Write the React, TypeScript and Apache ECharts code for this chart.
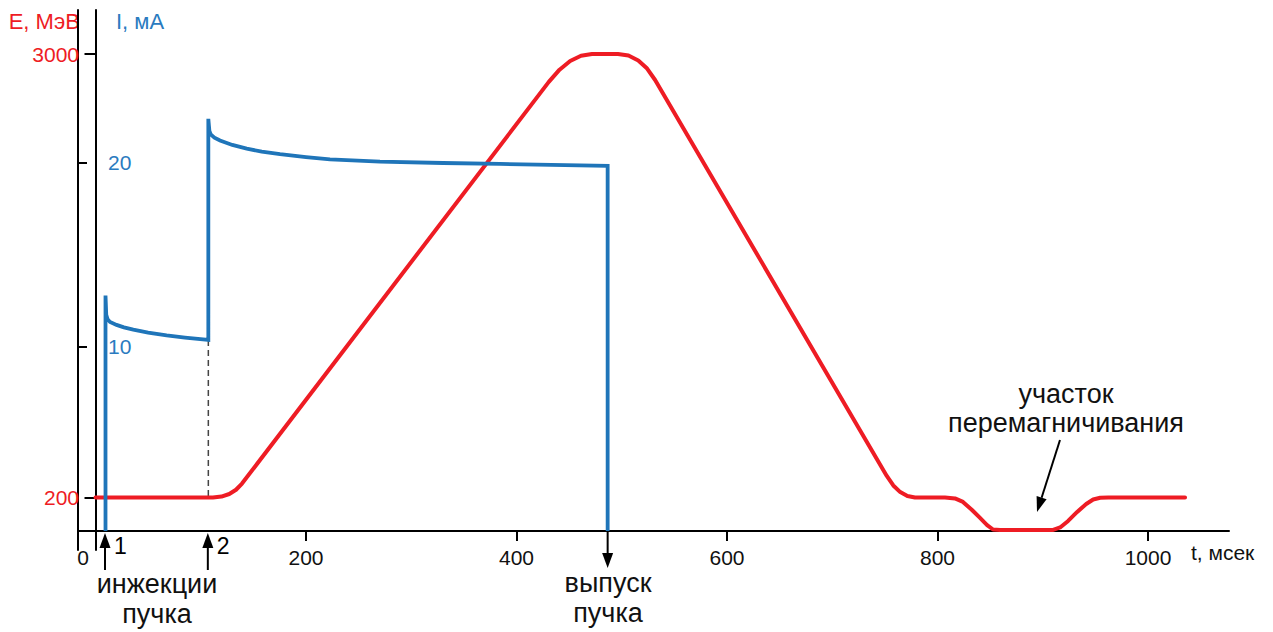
import React, { useEffect, useRef } from "react";
import * as echarts from "echarts";

// Energy E (MeV) vs time t (ms)
const energyT = [0, 111.6, 119.7, 127.1, 133.5, 139.2, 430.7, 440.9, 451.0, 461.3, 471.7, 496.4, 506.4, 515.7, 524.1, 531.7, 751.8, 758.0, 764.6, 771.4, 778.6, 807.1, 816.6, 824.2, 832.8, 840.4, 847.1, 852.8, 859.5, 909.9, 916.5, 924.1, 932.7, 941.3, 947.9, 954.6, 962.3, 1035.2];
const energyE = [200, 200, 206, 222, 249, 288, 2824, 2901, 2956, 2989, 3000, 3000, 2990, 2959, 2908, 2836, 336, 276, 234, 209, 200, 200, 194, 172, 121, 71, 26, -2, -5, -5, 11, 52, 109, 159, 187, 198, 200, 200];

// Beam current I (mA) vs time t (ms)
const currentT = [9.5, 9.5, 10.2, 11.5, 13.8, 20.0, 27.0, 35.9, 50.0, 67.6, 85.0, 107.2, 107.2, 108.2, 109.5, 113.0, 118.3, 130.0, 143.7, 158.0, 175.3, 200.0, 222.8, 270.3, 330.0, 384.3, 486.6, 486.6];
const currentI = [0, 12.8, 11.75, 11.5, 11.36, 11.2, 11.07, 10.94, 10.78, 10.63, 10.51, 10.38, 22.4, 21.75, 21.55, 21.38, 21.22, 20.98, 20.78, 20.62, 20.48, 20.32, 20.2, 20.07, 20.0, 19.95, 19.84, 0];

const xTicks = [200, 400, 600, 800, 1000];
const eTicks = [200, 3000];
const iTicks = [10, 20];

const injectionTimes = [9.5, 107.2];
const injectionLabels = ["1", "2"];
const releaseTime = 486.6;
const secondInjectionDash = [10.38, 1.82];

const RED = "#ee1c24";
const BLUE = "#1f75b9";
const BLUE_TEXT = "#2a7bbf";
const FONT = "'Liberation Sans', Arial, Helvetica, sans-serif";

export default function App() {
  const ref = useRef<HTMLDivElement>(null);

  useEffect(() => {
    if (!ref.current) return;
    const chart = echarts.init(ref.current, undefined, { renderer: "svg" });
    const plain = (v: number) => String(v);

    const option: any = {
      animation: false,
      grid: {
        left: 78,
        top: 10,
        width: 1151,
        height: 540,
        containLabel: false,
        outerBoundsMode: "none",
      },
      xAxis: {
        type: "value",
        min: -16.63,
        max: 1076.96,
        axisLine: {
          onZero: true,
          onZeroAxisIndex: 1,
          lineStyle: { color: "#000", width: 2 },
        },
        axisTick: {
          show: true,
          length: 10,
          customValues: xTicks,
          lineStyle: { color: "#000", width: 2 },
        },
        axisLabel: {
          customValues: xTicks,
          formatter: plain,
          color: "#111",
          fontSize: 21,
          fontFamily: FONT,
          margin: -3,
        },
        splitLine: { show: false },
      },
      yAxis: [
        {
          type: "value",
          min: -131.5,
          max: 3277.8,
          axisLine: { onZero: true, lineStyle: { color: "#000", width: 2 } },
          axisTick: {
            show: true,
            length: 11,
            customValues: eTicks,
            lineStyle: { color: "#000", width: 2 },
          },
          axisLabel: {
            customValues: eTicks,
            formatter: plain,
            color: RED,
            fontSize: 21,
            fontFamily: FONT,
            margin: -1,
          },
          splitLine: { show: false },
        },
        {
          type: "value",
          min: -1.0326,
          max: 28.315,
          position: "left",
          axisLine: { onZero: true, lineStyle: { color: "#000", width: 2 } },
          axisTick: {
            show: true,
            inside: true,
            length: 9,
            customValues: iTicks,
            lineStyle: { color: "#000", width: 2 },
          },
          axisLabel: {
            inside: true,
            customValues: iTicks,
            formatter: plain,
            color: BLUE_TEXT,
            fontSize: 21,
            fontFamily: FONT,
            margin: 30,
          },
          splitLine: { show: false },
        },
      ],
      series: [
        {
          type: "line",
          xAxisIndex: 0,
          yAxisIndex: 1,
          data: [
            [injectionTimes[1], secondInjectionDash[0]],
            [injectionTimes[1], secondInjectionDash[1]],
          ],
          symbol: "none",
          clip: false,
          lineStyle: { color: "#444", width: 1.5, type: [6, 4] },
          z: 1,
        },
        {
          type: "line",
          xAxisIndex: 0,
          yAxisIndex: 0,
          data: energyT.map((t, i) => [t, energyE[i]]),
          symbol: "none",
          clip: false,
          lineStyle: { color: RED, width: 4, join: "round", cap: "round" },
          z: 2,
        },
        {
          type: "line",
          xAxisIndex: 0,
          yAxisIndex: 1,
          data: currentT.map((t, i) => [t, currentI[i]]),
          symbol: "none",
          clip: false,
          lineStyle: { color: BLUE, width: 3.8, join: "miter", cap: "butt" },
          z: 3,
        },
      ],
    };
    chart.setOption(option);

    const toX = (t: number) => chart.convertToPixel({ xAxisIndex: 0 }, t) as number;
    const axisY = chart.convertToPixel({ yAxisIndex: 1 }, 0) as number;

    const graphics: any[] = [];
    const txt = (text: string, x: number, y: number, fill: string, size: number, align = "center") => ({
      type: "text",
      x,
      y,
      silent: true,
      style: {
        text,
        fill,
        fontSize: size,
        fontFamily: FONT,
        align,
        verticalAlign: "middle",
      },
    });

    // injection arrows
    injectionTimes.forEach((t, i) => {
      const x = toX(t) - 0.5;
      graphics.push({
        type: "line",
        shape: { x1: x, y1: axisY + 39, x2: x, y2: axisY + 14 },
        style: { stroke: "#000", lineWidth: 2 },
      });
      graphics.push({
        type: "polygon",
        shape: { points: [[x, axisY + 2], [x - 5.5, axisY + 17], [x + 5.5, axisY + 17]] },
        style: { fill: "#000" },
      });
      graphics.push(txt(injectionLabels[i], x + 9, axisY + 15, "#000", 23, "left"));
    });

    // release arrow
    {
      const x = toX(releaseTime);
      graphics.push({
        type: "line",
        shape: { x1: x, y1: axisY, x2: x, y2: axisY + 24 },
        style: { stroke: "#000", lineWidth: 2 },
      });
      graphics.push({
        type: "polygon",
        shape: { points: [[x, axisY + 37], [x - 5.5, axisY + 22], [x + 5.5, axisY + 22]] },
        style: { fill: "#000" },
      });
    }

    // remagnetization arrow
    graphics.push({
      type: "line",
      shape: { x1: 1060, y1: 440, x2: 1041.6, y2: 497.7 },
      style: { stroke: "#000", lineWidth: 2 },
    });
    graphics.push({
      type: "polygon",
      shape: { points: [[1037, 512], [1046.6, 499.2], [1036.6, 496]] },
      style: { fill: "#000" },
    });

    // texts
    graphics.push(txt("E, МэВ", 80, 21, RED, 22, "right"));
    graphics.push(txt("I, мА", 116, 21, BLUE_TEXT, 22, "left"));
    graphics.push(txt("0", 83, 557, "#111", 21));
    graphics.push(txt("t, мсек", 1191, 552, "#111", 21, "left"));
    graphics.push(txt("инжекции", 157, 584, "#111", 27));
    graphics.push(txt("пучка", 157, 614, "#111", 27));
    graphics.push(txt("выпуск", 608, 583, "#111", 27));
    graphics.push(txt("пучка", 608, 613, "#111", 27));
    graphics.push(txt("участок", 1066, 394, "#111", 27));
    graphics.push(txt("перемагничивания", 1066, 423, "#111", 27));

    chart.setOption({ graphic: graphics });

    return () => chart.dispose();
  }, []);

  return (
    <div
      ref={ref}
      style={{ position: "fixed", left: 0, top: 0, width: 1273, height: 632, background: "#fff" }}
    />
  );
}
